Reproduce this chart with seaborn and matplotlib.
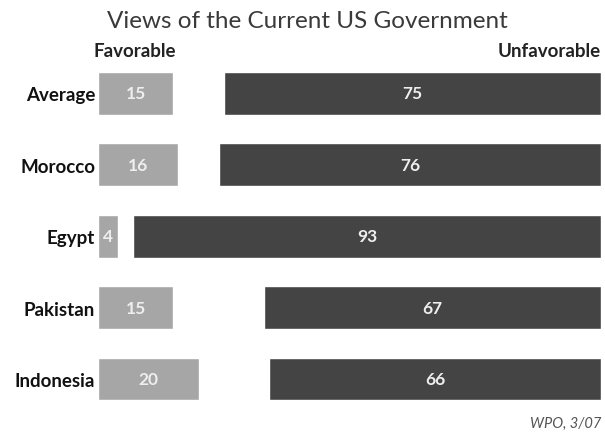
import matplotlib
matplotlib.use("Agg")
import matplotlib.pyplot as plt
import seaborn as sns
import pandas as pd

countries = ["Average", "Morocco", "Egypt", "Pakistan", "Indonesia"]
favorable = [15, 16, 4, 15, 20]
unfavorable = [75, 76, 93, 67, 66]

title = "Views of the Current US Government"
source = "WPO, 3/07"

fav_color = "#a6a6a6"
unfav_color = "#444444"

sns.set_style("white")
plt.rcParams["font.family"] = ["Lato", "DejaVu Sans"]

df = pd.DataFrame({"country": countries, "fav": favorable, "unfav": unfavorable})

fig = plt.figure(figsize=(6.05, 4.35), dpi=100)
ax = fig.add_axes([98 / 605, 1 - 415.7 / 435, 503 / 605, 356.9 / 435])

sns.barplot(data=df, x="fav", y="country", orient="h", color=fav_color,
            width=0.6, saturation=1, ax=ax)
n_fav = len(ax.patches)
sns.barplot(data=df, x="unfav", y="country", orient="h", color=unfav_color,
            width=0.6, saturation=1, ax=ax)

# unfavorable bars are anchored to the right end of the 0-100 scale
for p in ax.patches[n_fav:]:
    p.set_x(100 - p.get_width())

for i, (f, u) in enumerate(zip(favorable, unfavorable)):
    ax.text(f / 2, i, str(f), ha="center", va="center", color="#eeeeee",
            fontsize=12.5, fontweight="bold")
    ax.text(100 - u / 2, i, str(u), ha="center", va="center", color="#eeeeee",
            fontsize=12.5, fontweight="bold")

ax.set_xlim(0, 100)
ax.set_ylim(4.5, -0.5)
ax.set_xlabel("")
ax.set_ylabel("")
ax.set_xticks([])
ax.tick_params(axis="y", length=0, pad=2)
for lbl in ax.get_yticklabels():
    lbl.set_fontweight("bold")
    lbl.set_fontsize(13.5)
    lbl.set_color("#111111")
sns.despine(ax=ax, left=True, bottom=True)

fig.text(307 / 605, 1 - 22 / 435, title, ha="center", va="center",
         fontsize=17.5, color="#3a3a3a")
fig.text(135 / 605, 1 - 52 / 435, "Favorable", ha="center", va="center",
         fontsize=13.5, fontweight="bold", color="#222222")
fig.text(601 / 605, 1 - 52 / 435, "Unfavorable", ha="right", va="center",
         fontsize=13.5, fontweight="bold", color="#222222")
fig.text(601 / 605, 1 - 424 / 435, source, ha="right", va="center",
         fontsize=10.5, style="italic", color="#555555")

fig.savefig("out.png", dpi=100)
